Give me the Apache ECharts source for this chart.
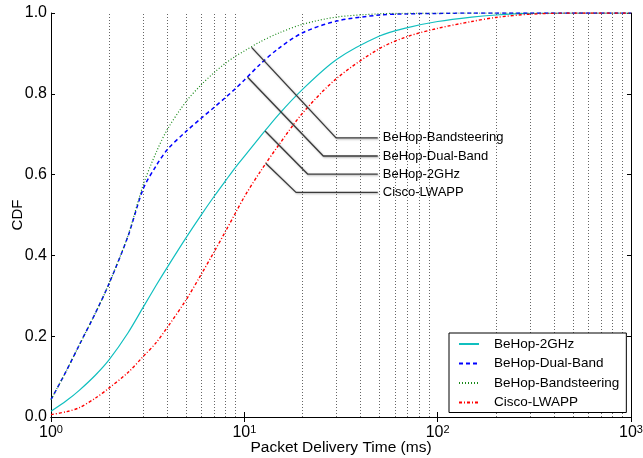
<!DOCTYPE html>
<html lang="en">
<head>
    <meta charset="UTF-8">
    <title>Packet Delivery Time CDF</title>
    <style>
        html, body { margin: 0; padding: 0; background: #fff; }
        #chart { width: 643px; height: 458px; }
    </style>
    <script src="https://cdn.jsdelivr.net/npm/echarts@6/dist/echarts.min.js"></script>
</head>
<body>
    <div id="chart"></div>
    <script>
        var FONT = 'Liberation Sans';

        // delivery time (ms), shared x values for all curves
        var delay = [1, 1.2, 1.4, 1.7, 2, 2.5, 3, 3.5, 4, 5, 6, 7, 8, 9, 10, 12, 15, 20, 30, 50, 70, 100, 150, 200, 300, 500, 1000];

        // CDF values
        var cdf2GHz = [0.014, 0.040, 0.066, 0.104, 0.142, 0.208, 0.272, 0.326, 0.371, 0.444, 0.501, 0.547, 0.585, 0.618, 0.645, 0.692, 0.748, 0.811, 0.885, 0.943, 0.964, 0.979, 0.99, 0.995, 0.999, 1, 1];
        var cdfDualBand = [0.043, 0.114, 0.178, 0.258, 0.331, 0.447, 0.565, 0.622, 0.662, 0.707, 0.740, 0.767, 0.791, 0.813, 0.834, 0.872, 0.912, 0.951, 0.980, 0.995, 0.998, 0.999, 1, 1, 1, 1, 1];
        var cdfBandsteering = [0.043, 0.114, 0.178, 0.258, 0.331, 0.449, 0.575, 0.655, 0.712, 0.781, 0.823, 0.853, 0.876, 0.893, 0.906, 0.928, 0.950, 0.972, 0.990, 0.998, 0.9995, 1, 1, 1, 1, 1, 1];
        var cdfCisco = [0.006, 0.013, 0.023, 0.047, 0.072, 0.110, 0.150, 0.184, 0.222, 0.290, 0.354, 0.410, 0.460, 0.505, 0.545, 0.605, 0.672, 0.752, 0.838, 0.912, 0.942, 0.962, 0.979, 0.989, 0.997, 1, 1];

        var seriesNames = ['BeHop-2GHz', 'BeHop-Dual-Band', 'BeHop-Bandsteering', 'Cisco-LWAPP'];

        // dotted vertical grid at the minor log ticks
        var gridTicks = [2, 3, 4, 5, 6, 7, 8, 9, 20, 30, 40, 50, 60, 70, 80, 90, 200, 300, 400, 500, 600, 700, 800, 900];

        // annotation callouts (data coordinates): tip on curve, elbow, label line
        var annoLabels = ['BeHop-Bandsteering', 'BeHop-Dual-Band', 'BeHop-2GHz', 'Cisco-LWAPP'];
        var annoTipX = [10.9, 10.4, 12.8, 12.9];
        var annoTipY = [0.915, 0.841, 0.708, 0.628];
        var annoElbowX = [29.8, 25.6, 21.3, 18.5];
        var annoY = [0.691, 0.646, 0.601, 0.556];
        var annoEndX = 49;

        function pairs(ys) {
            return delay.map(function (x, i) { return [x, ys[i]]; });
        }

        var curveStyles = [
            { color: '#10BFBF', width: 1.2, type: 'solid' },
            { color: '#0000FF', width: 1.5, type: [4, 3] },
            { color: '#1a8a1a', width: 1.2, type: [1, 2] },
            { color: '#FF0000', width: 1.4, type: [3, 2, 1, 2] }
        ];
        var curveData = [cdf2GHz, cdfDualBand, cdfBandsteering, cdfCisco];

        var series = curveData.map(function (ys, i) {
            return {
                name: seriesNames[i],
                type: 'line',
                data: pairs(ys),
                symbol: 'none',
                smooth: 0.3,
                color: curveStyles[i].color,
                lineStyle: curveStyles[i],
                z: 3
            };
        });

        // gridlines through markLine
        series[0].markLine = {
            silent: true,
            symbol: ['none', 'none'],
            label: { show: false },
            lineStyle: { color: '#666', width: 1, type: [1, 2] },
            data: gridTicks.map(function (v) { return { xAxis: v }; }),
            z: 1
        };

        annoLabels.forEach(function (lab, i) {
            series.push({
                name: 'anno-' + i,
                type: 'line',
                data: [[annoTipX[i], annoTipY[i]], [annoElbowX[i], annoY[i]], [annoEndX, annoY[i]]],
                symbol: 'none',
                silent: true,
                lineStyle: {
                    color: '#3a3a3a', width: 1.3,
                    shadowColor: 'rgba(0,0,0,0.35)', shadowBlur: 2, shadowOffsetX: 1, shadowOffsetY: 1
                },
                endLabel: {
                    show: true,
                    formatter: lab,
                    distance: 5,
                    color: '#000',
                    fontSize: 13,
                    fontFamily: FONT
                },
                z: 5
            });
        });

        var chart = echarts.init(document.getElementById('chart'), null, { renderer: 'canvas' });

        chart.setOption({
            animation: false,
            backgroundColor: '#fff',
            grid: { left: 51, right: 12, top: 13, bottom: 41, outerBoundsMode: 'none', containLabel: false },
            legend: {
                data: seriesNames,
                orient: 'vertical',
                left: 449,
                top: 333,
                padding: [4, 7, 3, 9],
                itemWidth: 20,
                itemHeight: 14,
                itemGap: 5.5,
                borderColor: '#000',
                borderWidth: 1,
                backgroundColor: '#fff',
                itemStyle: { opacity: 0 },
                textStyle: { fontFamily: FONT, fontSize: 13.5, color: '#000', padding: [0, 0, 0, 10] }
            },
            xAxis: [{
                type: 'log',
                logBase: 10,
                min: 1,
                max: 1000,
                name: 'Packet Delivery Time (ms)',
                nameLocation: 'middle',
                nameGap: 23,
                nameMoveOverlap: false,
                nameTextStyle: { fontFamily: FONT, fontSize: 15.5, color: '#000' },
                axisLine: { lineStyle: { color: '#000', width: 1 } },
                axisTick: { inside: true, length: 5, lineStyle: { color: '#000' } },
                splitLine: { show: false },
                axisLabel: {
                    margin: 7,
                    formatter: function (v) {
                        return '{b|10}{s|' + Math.round(Math.log10(v)) + '}';
                    },
                    rich: {
                        b: { fontFamily: FONT, fontSize: 16, color: '#000', lineHeight: 18 },
                        s: { fontFamily: FONT, fontSize: 11, color: '#000', verticalAlign: 'top', lineHeight: 12 }
                    }
                }
            }, {
                type: 'log',
                logBase: 10,
                min: 1,
                max: 1000,
                position: 'top',
                axisLine: { lineStyle: { color: '#000', width: 1 } },
                axisTick: { inside: true, length: 5, lineStyle: { color: '#000' } },
                axisLabel: { show: false },
                splitLine: { show: false }
            }],
            yAxis: [{
                type: 'value',
                min: 0,
                max: 1,
                interval: 0.2,
                name: 'CDF',
                nameLocation: 'middle',
                nameGap: 26,
                nameMoveOverlap: false,
                nameTextStyle: { fontFamily: FONT, fontSize: 15, color: '#000' },
                axisLine: { show: true, lineStyle: { color: '#000', width: 1 } },
                axisTick: { show: true, inside: true, length: 4, lineStyle: { color: '#000' } },
                splitLine: { show: false },
                axisLabel: {
                    margin: 4,
                    fontFamily: FONT, fontSize: 16, color: '#000',
                    formatter: function (v) { return v.toFixed(1); }
                }
            }, {
                type: 'value',
                min: 0,
                max: 1,
                interval: 0.2,
                position: 'right',
                axisLine: { show: true, lineStyle: { color: '#000', width: 1 } },
                axisTick: { show: true, inside: true, length: 4, lineStyle: { color: '#000' } },
                axisLabel: { show: false },
                splitLine: { show: false }
            }],
            series: series
        });
    </script>
</body>
</html>
